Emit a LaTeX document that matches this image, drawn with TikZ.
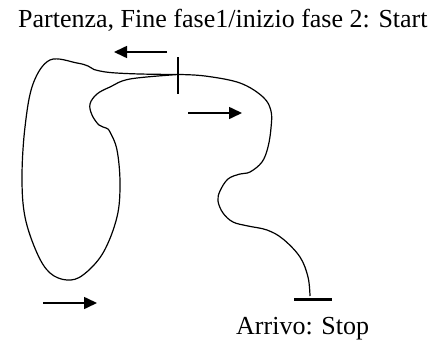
\documentclass[tikz,border=0pt]{standalone}
\usepackage{fontspec}
\setmainfont{Liberation Serif}
\usetikzlibrary{arrows.meta}
\begin{document}
\begin{tikzpicture}[x=1pt,y=-1pt,
  route/.style={line width=1.2pt,line join=round},
  dirarrow/.style={line width=1.6pt,-{Triangle[length=13pt,width=12pt]}},
  mark bar/.style={line width=2.4pt},
  lbl/.style={inner sep=0pt,anchor=base west,font=\fontsize{26}{30}\selectfont}]
\useasboundingbox (0,0) rectangle (445,343);
% labels
\node[lbl] (start) at (18,27) {Partenza, Fine fase1/inizio fase 2: Start};
\node[lbl] (stop) at (236,334) {Arrivo: Stop};
% junction and end
\coordinate (J) at (178,74.5);
\coordinate (E) at (310,296);
% loop (phase 1)
\draw[route] plot[smooth,tension=0.6] coordinates {
  (178,74.5) (130,79) (110,87) (97,94) (90,104) (92,115) (99,125) (106,128)
  (110,132) (117,150) (120,183) (117,217) (103,253) (83,275) (67,280)
  (50,273) (37,253) (25,217) (22,177) (25,127) (33,84) (50,60) (77,63)
  (88,66) (94,69.5) (110,72.5) (140,74) (178,74.5)};
% phase 2 path
\draw[route] plot[smooth,tension=0.6] coordinates {
  (178,74.5) (205,76) (240,83) (263,97) (271,111) (271,128) (268,147)
  (262,162) (250,172) (240,174) (228,179) (220,191) (218,201) (223,213)
  (233,222) (248,226) (267,230) (283,239) (300,257) (308,277) (310,296)};
% markers
\draw[mark bar] (178,57) -- (178,94);
\draw[mark bar] (294,299.5) -- (332,299.5);
% direction arrows
\draw[dirarrow] (167,52) -- (114,52);
\draw[dirarrow] (188,113) -- (242,113);
\draw[dirarrow] (43,303) -- (97,303);
\end{tikzpicture}
\end{document}
